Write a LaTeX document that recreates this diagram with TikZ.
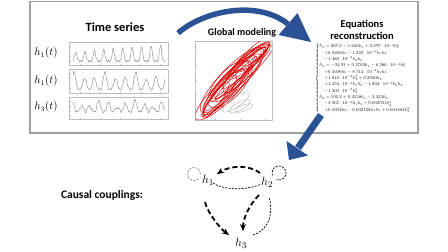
\documentclass[tikz,border=0pt]{standalone}
\usepackage{fontspec}
\setmainfont{Carlito}
\usetikzlibrary{arrows.meta,calc}
\definecolor{bigblue}{RGB}{44,82,150}
\definecolor{boxgray}{RGB}{160,160,160}
\definecolor{sig}{RGB}{140,140,140}
\tikzset{
  title/.style={font=\bfseries\fontsize{#1}{#1}\selectfont, inner sep=0pt, anchor=center},
  hvar/.style={font=\fontsize{13}{15}\selectfont, inner sep=1pt},
  thickdash/.style={line width=1.8pt, dash pattern=on 5pt off 3pt, -{Stealth[length=7pt,width=6pt]}},
  thindash/.style={line width=0.7pt, dash pattern=on 2pt off 1.3pt},
  panel/.style={draw=boxgray!70, line width=0.4pt},
  sigline/.style={sig, line width=0.45pt},
  loopred/.style={red!85!black, line width=0.45pt},
}
\begin{document}
\begin{tikzpicture}[x=1pt,y=-1pt]
\useasboundingbox (0,0) rectangle (448,252);
% frame
\draw[boxgray, line width=1.8pt] (30,1.5) rectangle (418,133);
% titles
\node[title=12.5] (ts) at (115,27) {Time series};
\node[title=10] (gm) at (242,33) {Global modeling};
\node[title=10.5, align=center] (eqt) at (362,30) {Equations\\[1pt]reconstruction};
% time series labels
\node[font=\fontsize{10.5}{12}\selectfont, inner sep=0pt] (l1) at (46,53) {$h_1(t)$};
\node[font=\fontsize{10.5}{12}\selectfont, inner sep=0pt] (l2) at (46,81) {$h_1(t)$};
\node[font=\fontsize{10.5}{12}\selectfont, inner sep=0pt] (l3) at (46,107) {$h_3(t)$};
% panels
\foreach \y/\h in {42/23,69/24,97/22}{
  \draw[panel] (69,\y) rectangle (168,\y+\h);
  \foreach \t in {80,100,120,140,160}{\draw[panel] (\t,\y+\h) -- (\t,\y+\h-1.5);}
  \foreach \s in {4,9,14,19}{\draw[panel] (69,\y+\s) -- (70.5,\y+\s);}
}
\begin{scope}[shift={(70,42)}]
\draw[sigline] plot[domain=3:95, samples=260] (\x,{21-18*(0.1+0.9*pow(0.5+0.5*cos((\x-6)*38.3),3)*(0.7+0.3*sin(37*\x)))+0.8*sin(157*\x)});
\end{scope}
\begin{scope}[shift={(70,69)}]
\draw[sigline] plot[domain=3:95, samples=260] (\x,{22-19*(0.08+0.92*pow(0.5+0.5*cos((\x-4)*34.95),1.5)*(0.75+0.25*sin(23*\x)))+0.7*sin(151*\x)});
\end{scope}
\begin{scope}[shift={(70,97)}]
\draw[sigline] plot[domain=3:95, samples=260] (\x,{18-15*(0.2+0.8*(0.5+0.5*cos((\x-2)*40))*(0.65+0.35*sin(29*\x)))+0.8*sin(143*\x)});
\end{scope}
% phase portrait
\draw[panel] (195,41) rectangle (272,120);
\foreach \t in {215,240,265}{\draw[panel] (\t,120) -- (\t,118.5);}
\foreach \s in {50,65,80,95,110}{\draw[panel] (195,\s) -- (196.5,\s);}
\begin{scope}
\clip (195.5,41.5) rectangle (271.5,119.5);
\foreach \cx/\cy/\a/\b/\r in {
 232/80/42/8/47, 238/74/38/6/45, 226/88/34/9/50, 244/68/30/5/43,
 224/92/30/7/48, 248/62/26/6/40, 232/80/44/12/46, 240/72/36/4/44,
 220/96/26/6/52, 250/58/24/5/38, 236/78/34/10/42, 228/86/40/5/49,
 252/58/22/7/36, 216/100/22/5/55, 242/72/40/8/41, 230/84/30/13/48,
 256/54/18/5/40, 236/78/30/3/46, 222/94/36/10/44, 246/66/34/9/50}{
  \draw[loopred] plot[domain=0:360, samples=60, smooth cycle]
    ({\cx+\a*cos(\x)*cos(\r)+\b*sin(\x)*sin(\r)},{\cy-\a*cos(\x)*sin(\r)+\b*sin(\x)*cos(\r)});
}
\foreach \cx/\cy/\a/\b/\r in {240/106/12/4/30, 236/102/16/5/35, 244/108/9/3/20}{
  \draw[sig!70, line width=0.4pt] plot[domain=0:360, samples=40, smooth cycle]
    ({\cx+\a*cos(\x)*cos(\r)+\b*sin(\x)*sin(\r)},{\cy-\a*cos(\x)*sin(\r)+\b*sin(\x)*cos(\r)});
}
\end{scope}
% equations
\node[inner sep=0pt, anchor=north west] (eq) at (315,43) {\renewcommand{\arraystretch}{1.2}\resizebox*{95pt}{70pt}{$\left\{\begin{array}{@{}l@{}}
\dot h_1 = 267.2 - 1.643h_1 + 2.279\cdot10^{-3}h_1^2\\
\quad + 0.8260h_2 - 1.223\cdot10^{-3}h_1h_2\\
\quad - 1.488\cdot10^{-3}h_2h_3\\
\dot h_2 = -34.91 + 0.3702h_1 - 6.386\cdot10^{-4}h_1^2\\
\quad + 0.5609h_2 - 8.714\cdot10^{-4}h_1h_2\\
\quad + 1.943\cdot10^{-4}h_2^2 + 0.2920h_3\\
\quad + 1.454\cdot10^{-3}h_1h_3 - 1.804\cdot10^{-3}h_2h_3\\
\quad - 1.300\cdot10^{-3}h_3^2\\
\dot h_3 = 102.2 + 0.2158h_1 - 2.423h_2\\
\quad - 3.965\cdot10^{-4}h_1h_2 + 0.002951h_2^2\\
\quad + 0.5952h_3 - 0.002768h_1h_3 + 0.001204h_3^2
\end{array}\right.$}};
% big blue arrows
\coordinate (a1s) at (178,33);
\coordinate (a1e) at (288,24);
\draw[bigblue, line width=5.5pt] (a1s) .. controls (205,10) and (258,0) .. (a1e);
\fill[bigblue] (297.5,13) -- (278.5,35) -- (311,42) -- cycle;
\coordinate (a2s) at (321,115);
\coordinate (a2e) at (298,148);
\draw[bigblue, line width=7pt] (a2s) -- (a2e);
\fill[bigblue] (308,155.5) -- (286.5,141) -- (289,160) -- cycle;
% causal couplings
\node[title=11.5] (cc) at (102,195) {Causal couplings:};
\node[hvar] (h1) at (208,180) {$h_1$};
\node[hvar] (h2) at (267,182) {$h_2$};
\node[hvar] (h3) at (241,243) {$h_3$};
\draw[thickdash] ([shift={(-7,-9)}]h2.center) .. controls +(-10,-8) and +(14,-9) .. ([shift={(9,-6)}]h1.center);
\draw[thindash] ([shift={(5,3)}]h1.center) .. controls +(12,8) and +(-12,6) .. ([shift={(-6,2)}]h2.center);
\draw[thickdash] ([shift={(-3,22)}]h1.center) .. controls +(3,12) and +(-8,-6) .. ([shift={(-12,-8)}]h3.center);
\draw[thickdash] ([shift={(-8,13)}]h2.center) .. controls +(-10,10) and +(0,-12) .. ([shift={(2,-12)}]h3.center);
\draw[thindash] ([shift={(12,-8)}]h3.center) .. controls +(18,-6) and +(4,14) .. ([shift={(2,15)}]h2.center);
\draw[thindash, gray] ([shift={(-14,-6)}]h1.center) ++(50:6.5) arc[start angle=50, end angle=360, radius=6.5];
\draw[thindash] ([shift={(12,-9)}]h2.center) ++(160:7) arc[start angle=160, end angle=470, radius=7];
\end{tikzpicture}
\end{document}
